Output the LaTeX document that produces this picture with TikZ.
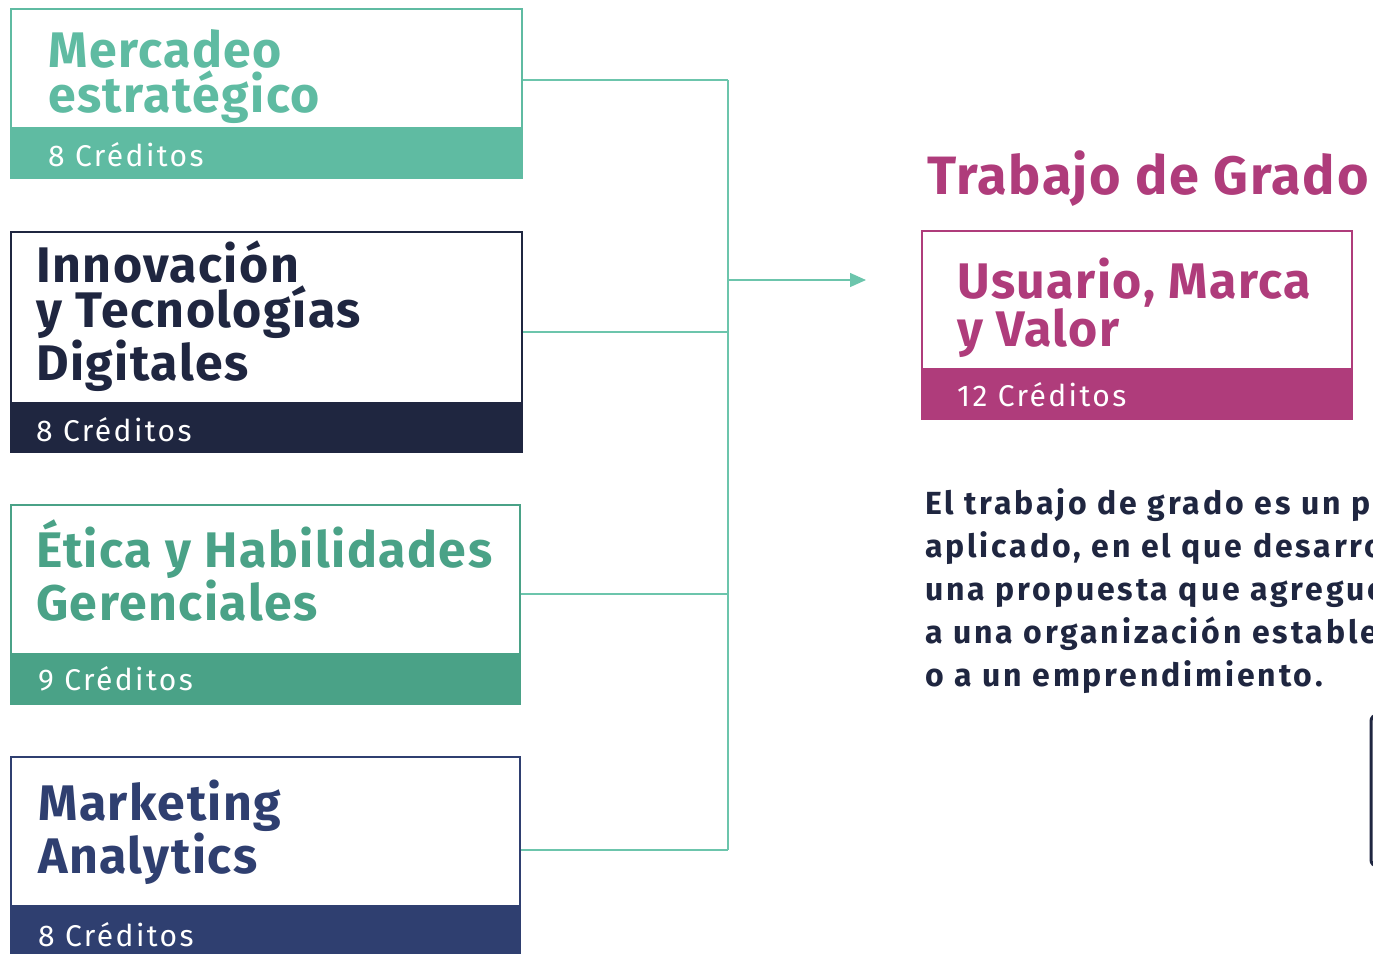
\documentclass[tikz,border=0pt]{standalone}
\usepackage{fontspec}
\setmainfont{Fira Sans}
\newfontfamily\headfont{Fira Sans}[LetterSpace=3]
\newfontfamily\credfont{Fira Sans}[LetterSpace=8]
\newfontfamily\bodyfont{Fira Sans}[LetterSpace=9]
\usetikzlibrary{arrows.meta}
\definecolor{mintgreen}{HTML}{5FBBA2}
\definecolor{linegreen}{HTML}{6CC5AC}
\definecolor{darknavy}{HTML}{1F2640}
\definecolor{sagegreen}{HTML}{4AA287}
\definecolor{royalnavy}{HTML}{2F3F70}
\definecolor{plum}{HTML}{AF3C7B}
\tikzset{
  course/.style={draw=#1, line width=2pt, anchor=north west, inner sep=0pt},
  credbar/.style={fill=#1, anchor=south west, inner sep=0pt, outer sep=0pt},
  coursetitle/.style={text=#1, anchor=base west, align=left, inner sep=0pt,
    font=\headfont\bfseries\fontsize{50}{45}\selectfont},
  credtext/.style={text=white, anchor=base west, inner sep=0pt,
    font=\credfont\fontsize{30}{30}\selectfont},
  link/.style={linegreen, line width=1.4pt},
}

\begin{document}
\begin{tikzpicture}[x=1pt, y=-1pt]
    \useasboundingbox (0,0) rectangle (1373,953);
    \clip (0,0) rectangle (1373,953);
    % left column
    \node[course=mintgreen, minimum width=511pt, minimum height=169pt] (mercadeo) at (10,8) {};
    \node[credbar=mintgreen, minimum width=513pt, minimum height=52pt] (mercadeobar) at (mercadeo.south west) {};
    \node[coursetitle=mintgreen] (mercadeotxt) at (48,112) {Mercadeo\\estratégico};
    \node[credtext] (mercadeocr) at (48,166) {8 Créditos};

    \node[course=darknavy, minimum width=511pt, minimum height=220pt] (innovacion) at (10,231) {};
    \node[credbar=darknavy, minimum width=513pt, minimum height=51pt] (innovacionbar) at (innovacion.south west) {};
    \node[coursetitle=darknavy] (innovaciontxt) at (36,380) {Innovación\\y Tecnologías\\Digitales};
    \node[credtext] (innovacioncr) at (36,441) {8 Créditos};

    \node[course=sagegreen, minimum width=509pt, minimum height=199pt] (etica) at (10,504) {};
    \node[credbar=sagegreen, minimum width=511pt, minimum height=52pt] (eticabar) at (etica.south west) {};
    \node[coursetitle=sagegreen] (eticatxt) at (36,620) {Ética y Habilidades\\Gerenciales};
    \node[credtext] (eticacr) at (38,690) {9 Créditos};

    \node[course=royalnavy, minimum width=509pt, minimum height=200pt] (marketing) at (10,756) {};
    \node[credbar=royalnavy, minimum width=511pt, minimum height=53pt] (marketingbar) at (marketing.south west) {};
    \node[coursetitle=royalnavy] (marketingtxt) at (38,873) {Marketing\\Analytics};
    \node[credtext] (marketingcr) at (38,946) {8 Créditos};

    % right column
    \node[text=plum, anchor=base west, inner sep=0pt, font=\headfont\bfseries\fontsize{54}{54}\selectfont] (grado) at (927,194) {Trabajo de Grado};
    \node[course=plum, minimum width=430pt, minimum height=188pt] (usuario) at (921,230) {};
    \node[credbar=plum, minimum width=432pt, minimum height=52pt] (usuariobar) at (usuario.south west) {};
    \node[coursetitle=plum] (usuariotxt) at (957,346) {Usuario, Marca\\y Valor};
    \node[credtext] (usuariocr) at (957,406) {12 Créditos};
    \node[text=darknavy, anchor=base west, align=left, inner sep=0pt,
      font=\bodyfont\bfseries\fontsize{32}{43}\selectfont] (resumen) at (925,686)
      {El trabajo de grado es un proyecto\\aplicado, en el que desarrollarás\\una propuesta que agregue valor\\a una organización establecida\\o a un emprendimiento.};
    \draw[darknavy, line width=3pt, rounded corners=6pt] (1371,715) rectangle (1420,866);

    % connectors
    \coordinate (spine) at (728,0);
    \coordinate (tip) at (866,280);
    \draw[link] ([yshift=13.5pt]mercadeo.east) coordinate (m1) -- (m1 -| spine);
    \draw[link] ([yshift=10pt]innovacion.east) coordinate (m2) -- (m2 -| spine);
    \draw[link] ([yshift=10.5pt]etica.east) coordinate (m3) -- (m3 -| spine);
    \draw[link] ([yshift=7pt]marketing.east) coordinate (m4) -- (m4 -| spine);
    \draw[link] (m1 -| spine) -- (m4 -| spine);
    \draw[link, -{Triangle[length=16pt, width=14pt]}] (tip -| spine) -- (tip);
\end{tikzpicture}
\end{document}
